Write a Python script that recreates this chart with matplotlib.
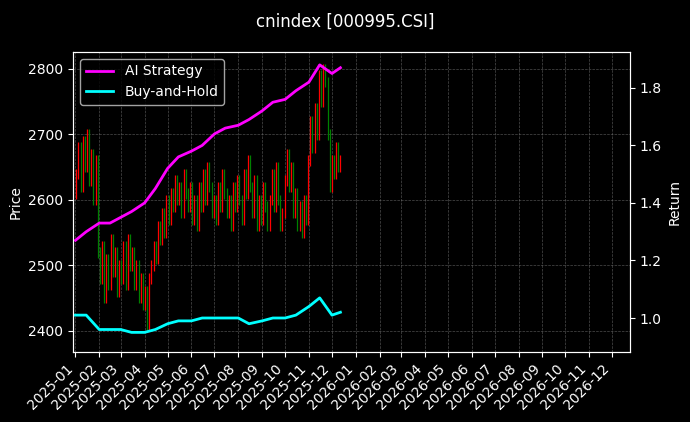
import matplotlib
matplotlib.use("Agg")
import matplotlib.pyplot as plt
import matplotlib.dates as mdates
import pandas as pd
import numpy as np

closes = [2640,2680,2620,2690,2650,2700,2630,2670,2600,2660,2520,
          2480,2530,2450,2510,2470,2540,2490,2520,2460,2500,
          2480,2530,2470,2540,2500,2520,2470,2500,2450,2480,2440,
          2460,2410,2480,2500,2530,2510,2560,2540,2580,2550,2600,
          2570,2610,2590,2630,2600,2620,2580,2640,2610,2590,2620,
          2570,2600,2560,2620,2590,2640,2600,2650,2620,2580,
          2600,2570,2620,2590,2640,2610,2580,2600,2560,2620,2590,2630,
          2600,2570,2640,2610,2660,2620,2580,2630,2560,2600,
          2570,2620,2590,2560,2600,2640,2590,2650,2600,2560,2580,
          2630,2670,2620,2650,2580,2610,2560,2590,2550,2600,2570,
          2660,2720,2680,2740,2700,2790,2750,2800,2780,2700,
          2620,2660,2640,2680,2650,2660]
opens = [2610] + closes[:-1]
price_dates = pd.date_range("2025-01-02", "2025-12-12", periods=len(closes))

ret_dates = pd.to_datetime(["2025-01-01","2025-01-15","2025-02-01","2025-02-15","2025-03-01","2025-03-15",
             "2025-04-01","2025-04-15","2025-05-01","2025-05-15","2025-06-01","2025-06-15",
             "2025-07-01","2025-07-15","2025-08-01","2025-08-15","2025-09-01","2025-09-15",
             "2025-10-01","2025-10-15","2025-11-01","2025-11-15","2025-12-01","2025-12-12"])
ai_strategy = [1.27,1.30,1.33,1.33,1.35,1.37,1.40,1.45,1.52,1.56,1.58,1.60,1.64,1.66,1.67,1.69,1.72,1.75,1.76,1.79,1.82,1.88,1.85,1.87]
buy_hold = [1.01,1.01,0.96,0.96,0.96,0.95,0.95,0.96,0.98,0.99,0.99,1.00,1.00,1.00,1.00,0.98,0.99,1.00,1.00,1.01,1.04,1.07,1.01,1.02]

plt.style.use("dark_background")
fig = plt.figure(figsize=(6.9, 4.22), dpi=100)
ax = fig.add_axes([0.106, 0.166, 0.807, 0.711])
for d, o, c in zip(price_dates, opens, closes):
    col = "red" if c >= o else "green"
    ax.vlines(d, min(o, c) - 8, max(o, c) + 8, color=col, linewidth=0.9)
ax.set_ylim(2368, 2826)
ax.set_ylabel("Price")
ax.set_xlim(pd.Timestamp("2024-12-29"), pd.Timestamp("2026-12-24"))
ax.xaxis.set_major_locator(mdates.MonthLocator())
ax.xaxis.set_major_formatter(mdates.DateFormatter("%Y-%m"))
plt.setp(ax.get_xticklabels(), rotation=45, ha="right")
ax.grid(True, linestyle="--", linewidth=0.5, color="gray", alpha=0.6)

ax2 = ax.twinx()
ax2.plot(ret_dates, ai_strategy, color="magenta", linewidth=2, label="AI Strategy")
ax2.plot(ret_dates, buy_hold, color="cyan", linewidth=2, label="Buy-and-Hold")
ax2.set_ylim(0.882, 1.925)
ax2.set_ylabel("Return")
ax2.legend(loc="upper left")
fig.suptitle("cnindex [000995.CSI]", y=0.97)
fig.savefig("out.png", dpi=100, facecolor="black")
